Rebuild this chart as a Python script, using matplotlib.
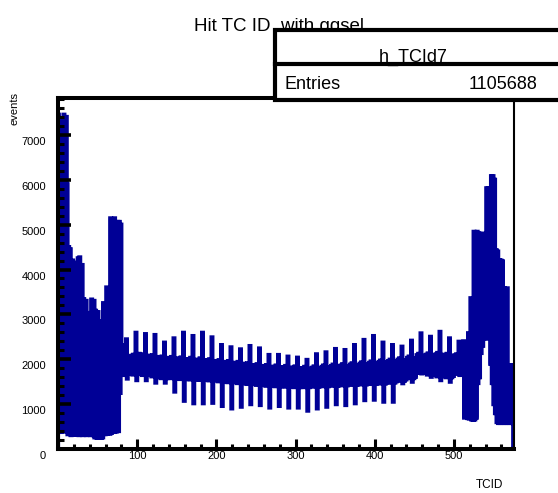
import numpy as np
import matplotlib
matplotlib.use('Agg')
import matplotlib.pyplot as plt
import matplotlib.transforms as mtransforms
from matplotlib.patches import Rectangle
from matplotlib.lines import Line2D
from matplotlib.ticker import MultipleLocator, FixedLocator

plt.rcParams['font.family'] = ['Liberation Sans Narrow', 'Liberation Sans', 'DejaVu Sans']

# hit counts per trigger cell, forward endcap (TCID 1-80)
fwd_counts = [
    7450, 420, 6900, 380, 5200, 7300, 400, 7450, 390, 6100,
    7400, 5900, 330, 4500, 340, 4450, 310, 3900, 4200, 320,
    4150, 330, 3400, 320, 3420, 4250, 310, 4270, 3800, 320,
    4100, 310, 3340, 2900, 320, 3300, 310, 3030, 2600, 320,
    3000, 310, 3330, 2800, 310, 3300, 260, 3080, 2700, 250,
    3050, 250, 2850, 2500, 250, 2800, 260, 3250, 2900, 330,
    3200, 3600, 340, 3550, 3100, 340, 5140, 360, 5100, 4800,
    380, 5140, 4950, 390, 4950, 5060, 400, 5060, 1250, 5000,
]

# barrel (TCID 81-512), one row per phi sector of 12 cells
barrel_counts = [
    [2000, 2316, 1700, 2050, 1650, 2100, 2443, 1570, 1980, 1680, 2060, 1700],
    [1700, 2080, 1660, 2100, 1720, 2040, 2590, 1535, 2000, 1680, 2120, 1690],
    [1720, 2060, 1650, 2110, 1700, 2050, 2560, 1535, 1990, 1660, 2080, 1700],
    [1680, 2050, 1620, 2090, 1640, 2030, 2540, 1480, 1960, 1600, 2050, 1640],
    [1640, 2020, 1580, 2060, 1600, 2000, 2370, 1480, 1940, 1580, 2030, 1620],
    [1620, 2010, 1580, 2050, 1600, 1990, 2465, 1280, 1920, 1570, 2020, 1600],
    [1600, 2000, 1560, 2040, 1580, 1980, 2590, 1075, 1900, 1560, 2000, 1590],
    [1590, 1990, 1550, 2030, 1570, 1970, 2517, 1020, 1890, 1550, 1990, 1580],
    [1580, 1980, 1540, 2020, 1560, 1960, 2590, 1020, 1880, 1540, 1980, 1570],
    [1570, 1970, 1530, 2000, 1550, 1950, 2487, 1030, 1870, 1530, 1960, 1560],
    [1550, 1950, 1510, 1980, 1530, 1930, 2316, 960, 1850, 1510, 1940, 1540],
    [1530, 1930, 1490, 1960, 1510, 1910, 2265, 905, 1830, 1490, 1920, 1520],
    [1510, 1910, 1470, 1940, 1490, 1890, 2220, 943, 1810, 1470, 1900, 1500],
    [1490, 1880, 1450, 1910, 1470, 1860, 2294, 1000, 1790, 1450, 1870, 1480],
    [1470, 1860, 1430, 1890, 1450, 1840, 2240, 980, 1770, 1430, 1850, 1460],
    [1450, 1840, 1410, 1870, 1430, 1820, 2095, 925, 1750, 1410, 1830, 1440],
    [1440, 1830, 1400, 1860, 1420, 1810, 2095, 960, 1740, 1400, 1820, 1430],
    [1430, 1820, 1390, 1850, 1410, 1800, 2058, 925, 1730, 1390, 1810, 1420],
    [1420, 1810, 1380, 1840, 1400, 1790, 2035, 925, 1720, 1380, 1800, 1410],
    [1420, 1800, 1380, 1830, 1400, 1780, 1985, 855, 1710, 1380, 1790, 1410],
    [1430, 1810, 1390, 1840, 1410, 1790, 2110, 905, 1720, 1390, 1800, 1420],
    [1440, 1830, 1400, 1860, 1420, 1810, 2153, 943, 1740, 1400, 1820, 1430],
    [1450, 1850, 1410, 1880, 1430, 1830, 2228, 1000, 1760, 1410, 1840, 1440],
    [1460, 1860, 1420, 1890, 1440, 1840, 2205, 980, 1770, 1420, 1850, 1450],
    [1470, 1880, 1430, 1910, 1450, 1860, 2316, 1020, 1790, 1430, 1870, 1460],
    [1480, 1900, 1440, 1930, 1460, 1880, 2430, 1090, 1810, 1440, 1890, 1470],
    [1490, 1920, 1450, 1950, 1470, 1900, 2517, 1100, 1830, 1450, 1910, 1480],
    [1500, 1940, 1460, 1970, 1480, 1920, 2370, 1055, 1850, 1460, 1930, 1490],
    [1520, 1960, 1480, 1990, 1500, 1940, 2316, 1055, 1870, 1480, 1950, 1510],
    [1560, 1990, 1520, 2020, 1540, 1970, 2280, 1466, 1900, 1520, 1980, 1550],
    [1620, 2030, 1580, 2060, 1600, 2010, 2413, 1500, 1940, 1580, 2020, 1610],
    [1720, 2090, 1700, 2120, 1710, 2070, 2576, 1685, 2000, 1700, 2080, 1720],
    [1700, 2100, 1660, 2130, 1680, 2080, 2500, 1610, 2010, 1660, 2090, 1690],
    [1660, 2110, 1620, 2140, 1640, 2090, 2610, 1535, 2020, 1620, 2100, 1650],
    [1640, 2090, 1600, 2120, 1620, 2070, 2465, 1500, 2000, 1600, 2080, 1630],
    [1700, 2080, 1680, 2110, 1690, 2060, 2390, 1650, 1990, 1680, 2070, 1700],
]

# backward endcap (TCID 513-576)
bwd_counts = [
    2400, 700, 1800, 720, 2350, 690, 2580, 680,
    2500, 3360, 660, 3300, 650, 4840, 660, 4800,
    700, 4840, 1470, 4800, 1600, 4780, 2140, 4800,
    2300, 4500, 2470, 4480, 2470, 5810, 2470, 5800,
    2470, 5810, 1900, 6080, 1470, 6080, 1000, 6000,
    800, 4430, 600, 4400, 580, 4210, 580, 4200,
    590, 4180, 580, 3580, 580, 3560, 590, 3580,
    580, 1870, 580, 1850, 600, 1870, 580, 60,
]

hist_name = 'h_TCId7'
n_entries = 1105688
x_ticks = [0, 100, 200, 300, 400, 500]
x_ticklabels = ['', '100', '200', '300', '400', '500']

counts = np.concatenate([fwd_counts, np.ravel(barrel_counts), bwd_counts])
edges = np.arange(len(counts) + 1)

W, H = 558, 493
fig = plt.figure(figsize=(W / 100, H / 100), dpi=100)
ax = fig.add_axes([58 / W, 1 - 449 / H, (514 - 58) / W, (449 - 98) / H])

ax.stairs(counts, edges, baseline=0, color='#000096', linewidth=3.0,
          joinstyle='miter', capstyle='butt')

ax.set_xlim(0, 576)
ax.set_ylim(0, 1.05 * counts.max())

ax.xaxis.set_major_locator(FixedLocator(x_ticks))
ax.set_xticklabels(x_ticklabels)
ax.xaxis.set_minor_locator(MultipleLocator(20))
ax.yaxis.set_major_locator(MultipleLocator(1000))
ax.yaxis.set_minor_locator(MultipleLocator(200))

ax.tick_params(which='both', direction='in', top=False, right=False,
               color='black', labelsize=8)
ax.tick_params(axis='y', which='major', length=9, width=2.6, pad=8.5)
ax.tick_params(axis='y', which='minor', length=4.5, width=2.2)
ax.tick_params(axis='x', which='major', length=7.5, width=2.2, pad=1.5)
ax.tick_params(axis='x', which='minor', length=3.8, width=2.2)

# ROOT puts the y labels a little below their ticks
shift = mtransforms.ScaledTranslation(0, -6 / 100, fig.dpi_scale_trans)
for lab in ax.get_yticklabels():
    lab.set_transform(lab.get_transform() + shift)

for side in ['left', 'bottom', 'top']:
    ax.spines[side].set_linewidth(2.9)
ax.spines['right'].set_linewidth(1.5)

fig.text(15 / W, 1 - 92 / H, 'events', rotation=90, ha='center', va='top',
         fontsize=8)
fig.text(503 / W, 1 - 485 / H, 'TCID', ha='right', va='center', fontsize=8.5)

# title sits under the stats box
fig.text(279 / W, 1 - 31 / H, 'Hit TC ID  with ggsel', ha='center',
         va='baseline', fontsize=13.5, zorder=2)

# stats box
bx0, bx1, by0, by1, bym = 275, 562, 30, 100, 64
box = Rectangle((bx0 / W, 1 - by1 / H), (bx1 - bx0) / W, (by1 - by0) / H,
                transform=fig.transFigure, facecolor='white',
                edgecolor='black', linewidth=3, zorder=5, clip_on=False)
fig.add_artist(box)
fig.add_artist(Line2D([bx0 / W, bx1 / W], [1 - bym / H, 1 - bym / H],
                      transform=fig.transFigure, color='black',
                      linewidth=3, zorder=8))
fig.text(413 / W, 1 - 62 / H, hist_name, ha='center', va='baseline',
         fontsize=13, zorder=7)
fig.text(284 / W, 1 - 89 / H, 'Entries', ha='left', va='baseline',
         fontsize=13, zorder=7)
fig.text(537 / W, 1 - 89 / H, str(n_entries), ha='right', va='baseline',
         fontsize=13, zorder=7)

fig.savefig('out.png', dpi=100)
